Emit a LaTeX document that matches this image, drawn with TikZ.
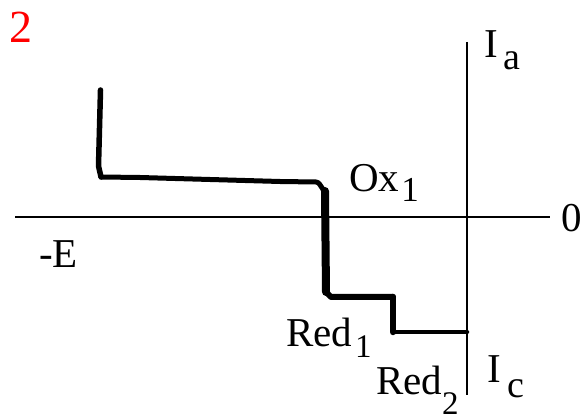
\documentclass[tikz,border=0pt]{standalone}
\usepackage{fontspec}
\setmainfont{Liberation Serif}
\begin{document}
\begin{tikzpicture}[x=1pt,y=-1pt,
  axis/.style={line width=1.2pt,black},
  curve/.style={line join=round,line cap=round,black},
  lbl/.style={inner sep=0pt,anchor=base west,font=\fontsize{41}{41}\selectfont}]
\useasboundingbox (0,0) rectangle (586,419);
% axes
\coordinate (xl) at (15,217);
\coordinate (xr) at (550,217);
\coordinate (yt) at (467,42);
\coordinate (yb) at (467,395);
\draw[axis] (xl) -- (xr);
\draw[axis] (yt) -- (yb);
% curve points
\coordinate (p0) at (100.5,90);
\coordinate (p1) at (98.5,166);
\coordinate (p2) at (101,177);
\coordinate (p3) at (140,177.5);
\coordinate (p4) at (210,179.5);
\coordinate (p5) at (280,181.5);
\coordinate (p6) at (316,182);
\coordinate (p7) at (325,191);
\coordinate (p8) at (326,292);
\coordinate (p9) at (331,297);
\coordinate (p10) at (393,297);
\coordinate (p11) at (393,332);
\coordinate (p12) at (467,332);
\draw[curve,line width=5.5pt] (p0) -- (p1) -- (p2);
\draw[curve,line width=5pt] (p2) -- (p3) -- (p4) -- (p5) -- (p6) to[out=0,in=-90] (p7);
\draw[curve,line width=8pt] (p7) -- (p8);
\draw[curve,line width=6pt] (p8) -- (p9) -- (p10);
\draw[curve,line width=6.5pt] (p10) -- (p11);
\draw[curve,line width=4.5pt] (p11) -- (p12);
% labels
\node[lbl,font=\fontsize{46}{46}\selectfont,text={rgb,255:red,255;green,0;blue,0}] (num) at (9,43) {2};
\node[lbl] (ia) at (484,58) {I\hspace{6pt}\raisebox{-12pt}{\fontsize{38}{38}\selectfont a}};
\node[lbl] (zero) at (561,232) {0};
\node[lbl] (negE) at (39,268) {-E};
\node[lbl] (ox) at (349,192) {Ox\hspace{2pt}\raisebox{-10pt}{\fontsize{35}{35}\selectfont 1}};
\node[lbl] (red1) at (286,347) {Red\hspace{3pt}\raisebox{-11pt}{\fontsize{33}{33}\selectfont 1}};
\node[lbl] (red2) at (376,394) {Red\hspace{0pt}\raisebox{-20pt}{\fontsize{33}{33}\selectfont 2}};
\node[lbl] (ic) at (487,382) {I\hspace{7pt}\raisebox{-15pt}{\fontsize{38}{38}\selectfont c}};
\end{tikzpicture}
\end{document}
